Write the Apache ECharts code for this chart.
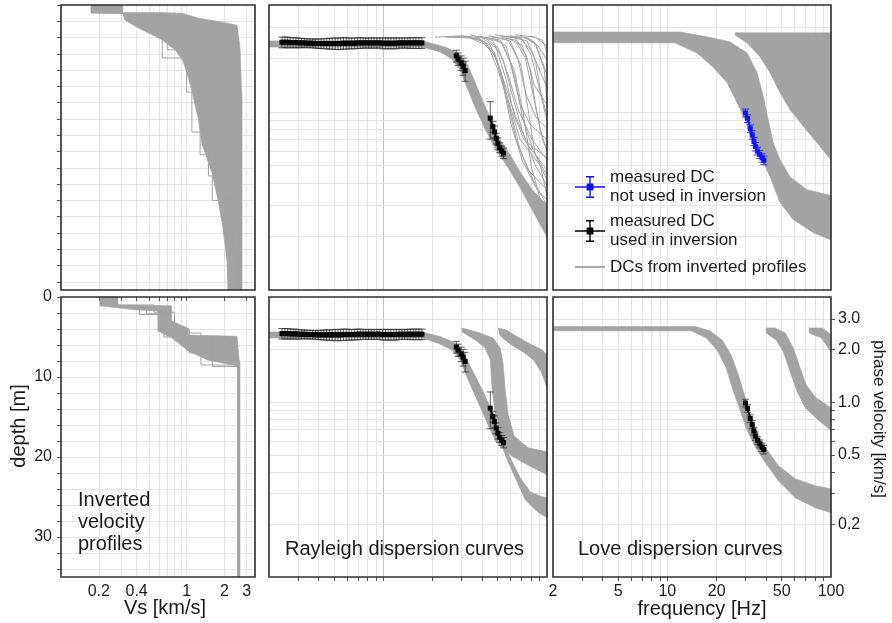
<!DOCTYPE html>
<html>
<head>
<meta charset="utf-8">
<title>Inverted velocity profiles and dispersion curves</title>
<script src="https://cdn.jsdelivr.net/npm/echarts@6.0.0/dist/echarts.min.js"></script>
<style>
  html, body { margin: 0; padding: 0; background: #fff; }
  #chart { width: 892px; height: 623px; }
</style>
</head>
<body>
<div id="chart"></div>
<script>
// ---- ticks and labels ----
const vsTicks = [0.2, 0.3, 0.4, 0.5, 0.6, 0.7, 0.8, 0.9, 1, 2, 3];
const vsLabels = [0.2, 0.4, 1, 2, 3];
const depthTicks = [0, 2, 4, 6, 8, 10, 12, 14, 16, 18, 20, 22, 24, 26, 28, 30, 32, 34];
const depthLabels = [0, 10, 20, 30];
const freqTicks = [3, 4, 5, 6, 7, 8, 9, 10, 20, 30, 40, 50, 60, 70, 80, 90];
const freqLabels = [2, 5, 10, 20, 50, 100];
const velTicks = [0.2, 0.3, 0.4, 0.5, 0.6, 0.7, 0.8, 0.9, 1, 2, 3];
const velLabels = [0.2, 0.5, 1, 2, 3];

// ---- measured dispersion curves (same data in both rows) ----
const rayFreq = [2.40, 2.50, 2.60, 2.70, 2.81, 2.92, 3.04, 3.16, 3.29, 3.42, 3.56, 3.70, 3.85, 4.00, 4.16, 4.33, 4.50,
  4.68, 4.87, 5.07, 5.27, 5.48, 5.70, 5.93, 6.17, 6.41, 6.67, 6.94, 7.22, 7.51, 7.81, 8.12, 8.44, 8.78, 9.13, 9.50,
  9.88, 10.3, 10.7, 11.1, 11.6, 12.0, 12.5, 13.0, 13.5, 14.1, 14.6, 15.2, 15.8, 16.5, 17.2, null,
  27.9, 28.6, 29.9, 30.7, 31.6, null,
  45.0, 46.7, 47.7, 48.9, 50.1, 51.3, 53.0, 54.2];
const rayVel = [2.47, 2.47, 2.47, 2.46, 2.46, 2.46, 2.45, 2.45, 2.45, 2.44, 2.44, 2.44, 2.43, 2.43, 2.43, 2.43, 2.43,
  2.43, 2.43, 2.43, 2.43, 2.43, 2.44, 2.44, 2.44, 2.44, 2.44, 2.45, 2.45, 2.45, 2.45, 2.45, 2.45, 2.45, 2.45, 2.45,
  2.44, 2.44, 2.44, 2.44, 2.44, 2.44, 2.45, 2.45, 2.45, 2.45, 2.45, 2.45, 2.45, 2.45, 2.45, null,
  2.07, 1.99, 1.89, 1.81, 1.71, null,
  0.925, 0.828, 0.775, 0.711, 0.665, 0.631, 0.604, 0.588];
const rayErr = [0.17, 0.17, 0.17, 0.16, 0.16, 0.16, 0.15, 0.15, 0.14, 0.14, 0.14, 0.14, 0.14, 0.15, 0.15, 0.16, 0.16,
  0.17, 0.17, 0.18, 0.18, 0.18, 0.18, 0.18, 0.17, 0.17, 0.17, 0.17, 0.17, 0.16, 0.16, 0.16, 0.16, 0.16, 0.16, 0.16,
  0.17, 0.17, 0.17, 0.17, 0.17, 0.17, 0.16, 0.16, 0.16, 0.16, 0.17, 0.17, 0.17, 0.17, 0.17, null,
  0.16, 0.16, 0.18, 0.2, 0.22, null,
  0.22, 0.06, 0.06, 0.05, 0.05, 0.04, 0.04, 0.04];
const loveFreq = [30.0, 30.9, 32.1, 33.0, 33.8, 34.5, 35.5, 36.7, 37.9, 38.9];
const loveVel = [0.99, 0.92, 0.807, 0.745, 0.684, 0.64, 0.604, 0.578, 0.553, 0.536];
const loveErr = [0.05, 0.045, 0.04, 0.04, 0.035, 0.035, 0.03, 0.03, 0.03, 0.03];

// ---- site A (top row): inverted profiles [Vs km/s, depth m] ----
const profA_band = [[0.173, 0], [0.31, 0], [0.31, 1.0], [0.92, 1.0], [1.23, 1.6], [1.91, 2.1], [2.52, 2.5], [2.66, 5.2],
  [2.76, 11.7], [2.76, 35], [2.13, 35], [2.09, 31.3], [1.94, 27.3], [1.78, 24], [1.59, 20.6], [1.32, 17], [1.23, 13.8],
  [1.11, 10.8], [1.01, 8.4], [0.93, 6.8], [0.81, 5.5], [0.64, 4.3], [0.41, 2.8], [0.32, 1.8], [0.31, 1.0], [0.173, 1.0]];
// stray profiles as layers [Vs, bottom depth]
const profA_steps = [
  [[0.26, 1.0], [0.64, 6.5], [1.0, 10.7], [1.1, 15.6], [1.28, 18.4], [1.49, 21], [1.6, 24], [2.3, 30], [2.7, 35]],
  [[0.2, 1.0], [0.81, 4.9], [1.17, 10], [1.35, 15.6], [1.53, 18], [1.68, 21], [1.85, 24], [2.5, 35]],
  [[0.3, 1.0], [0.7, 5.5], [1.05, 8.2], [1.2, 13], [1.4, 17], [1.7, 22], [2.2, 28], [2.6, 35]]
];

// ---- site A: Rayleigh curves [f Hz, v km/s] ----
const rayA_fund = [[2.0, 2.51], [17.3, 2.51], [23.9, 2.32], [28.6, 2.15], [32.1, 1.91], [35.4, 1.56], [40.7, 1.14], [46.2, 0.88],
  [51.8, 0.70], [59.6, 0.574], [68.6, 0.461], [81.2, 0.366], [100, 0.30], [100, 0.199], [81.2, 0.282], [68.6, 0.375],
  [57.9, 0.486], [48.9, 0.61], [42.5, 0.78], [36.9, 1.03], [32.5, 1.37], [29.4, 1.72], [26.3, 1.99], [22.2, 2.18],
  [17.3, 2.32], [2.0, 2.32]];
const rayA_lines = [
  [[20.7, 2.64], [30.3, 2.68], [39.0, 2.54], [48.2, 2.09], [55.5, 1.42], [63.9, 0.96], [76.7, 0.65], [100, 0.473]],
  [[30.3, 2.68], [41.9, 2.61], [50.3, 2.29], [57.9, 1.62], [66.7, 1.03], [81.2, 0.70], [100, 0.538]],
  [[33.9, 2.72], [46.2, 2.54], [54.0, 1.96], [61.3, 1.25], [70.5, 0.79], [84.8, 0.50], [100, 0.39]],
  [[37.9, 2.68], [51.8, 2.54], [59.6, 1.91], [68.6, 1.10], [79.0, 0.85], [100, 0.70]],
  [[43.7, 2.68], [57.9, 2.54], [66.7, 1.96], [74.6, 1.25], [86.0, 0.93], [100, 0.81]],
  [[48.2, 2.72], [63.9, 2.61], [74.6, 2.09], [83.6, 1.42], [100, 1.10]],
  [[51.8, 2.68], [68.6, 2.61], [81.2, 2.18], [91.1, 1.68], [100, 1.37]],
  [[55.5, 2.64], [70.5, 2.38], [79.0, 1.72], [86.0, 1.03], [93.8, 0.70], [100, 0.61]],
  [[59.6, 2.68], [76.7, 2.61], [88.6, 2.35], [100, 1.96]],
  [[63.9, 2.72], [84.8, 2.64], [100, 2.35]],
  [[40.2, 2.61], [48.9, 2.29], [56.3, 1.52], [63.0, 0.96], [72.4, 0.70], [100, 0.552]],
  [[46.2, 2.64], [56.3, 2.35], [63.9, 1.52], [71.4, 0.90], [82.4, 0.61], [100, 0.44]],
  [[68.6, 2.68], [83.6, 2.48], [93.8, 1.91], [100, 1.62]],
  [[36.4, 2.64], [45.0, 2.38], [51.8, 1.72], [57.9, 1.17], [68.6, 0.70], [91.1, 0.50], [100, 0.34]],
  [[23.9, 2.64], [33.9, 2.61], [43.7, 2.35], [50.3, 1.72], [59.6, 1.03], [68.6, 0.61], [84.8, 0.39], [100, 0.30]],
  [[27.5, 2.68], [39.0, 2.58], [47.7, 2.18], [54.0, 1.42], [60.4, 0.85], [70.5, 0.538], [87.2, 0.366], [100, 0.321]],
  [[51.8, 2.64], [63.9, 2.54], [73.6, 2.02], [81.2, 1.33], [91.1, 0.79], [100, 0.61]],
  [[57.9, 2.68], [70.5, 2.58], [80.1, 2.09], [88.6, 1.42], [96.3, 1.03], [100, 0.90]],
  [[61.3, 2.64], [75.6, 2.51], [84.8, 1.96], [92.2, 1.25], [100, 0.96]],
  [[45.0, 2.68], [59.6, 2.51], [69.5, 1.82], [76.7, 1.03], [84.8, 0.574], [100, 0.416]],
  [[79.0, 2.68], [93.8, 2.54], [100, 2.18]],
  [[41.9, 2.64], [53.2, 2.45], [63.0, 1.72], [71.4, 1.00], [80.1, 0.50], [91.1, 0.321], [100, 0.232]],
  [[73.6, 2.64], [86.0, 2.38], [96.3, 1.72], [100, 1.17]],
  [[33.0, 2.64], [41.9, 2.48], [49.6, 1.96], [57.1, 1.17], [64.8, 0.70], [76.7, 0.473], [100, 0.366]]
];

// ---- site A: Love curves ----
const loveA_fund = [[2.0, 2.82], [12.0, 2.82], [19.0, 2.61], [24.2, 2.48], [30.7, 2.15], [35.4, 1.66], [38.6, 1.22], [41.4, 0.90],
  [44.4, 0.67], [48.9, 0.538], [56.3, 0.432], [71.4, 0.366], [100, 0.34], [100, 0.191], [78.1, 0.21], [58.9, 0.248],
  [48.9, 0.309], [42.5, 0.432], [37.9, 0.538], [33.5, 0.67], [29.9, 0.90], [26.7, 1.13], [23.2, 1.46], [19.0, 1.79],
  [15.2, 2.15], [11.1, 2.45], [2.0, 2.45]];
const loveA_high = [[26.0, 2.79], [100, 2.79], [100, 0.538], [82.4, 0.67], [67.8, 0.83], [56.3, 1.03], [48.9, 1.28],
  [42.5, 1.66], [36.9, 2.04], [30.7, 2.45], [26.0, 2.7]];

// ---- site B (bottom row): inverted profiles ----
const profB_band = [[0.204, 0], [0.284, 0], [0.284, 1.0], [0.76, 1.1], [0.76, 3.0], [1.03, 3.9], [1.03, 4.75], [2.52, 4.9],
  [2.62, 8.0], [2.62, 8.6], [2.52, 8.6], [1.48, 7.9], [1.03, 6.75], [0.76, 5.1], [0.59, 4.25], [0.59, 1.75], [0.388, 1.6],
  [0.204, 1.1]];
const profB_half = [[2.53, 8.0], [2.66, 8.0], [2.66, 35], [2.53, 35]];
const profB_steps = [
  [[0.27, 1.1], [0.42, 2.2], [0.70, 4.0], [1.05, 7.0], [2.45, 8.3], [2.6, 35]],
  [[0.21, 1.0], [0.55, 1.9], [0.80, 4.5], [1.3, 8.5], [2.6, 35]],
  [[0.25, 1.2], [0.48, 2.1], [0.66, 5.0], [1.6, 8.7], [2.58, 35]]
];

// ---- site B: Rayleigh curves ----
const rayB_fund = [[2.0, 2.52], [17.3, 2.52], [22.2, 2.38], [26.7, 2.21], [30.7, 1.94], [35.4, 1.49], [40.7, 1.15], [46.2, 0.88],
  [51.8, 0.69], [57.9, 0.61], [54.7, 0.534], [48.9, 0.59], [43.7, 0.74], [37.9, 1.00], [33.0, 1.34], [29.4, 1.75],
  [26.3, 1.99], [22.2, 2.15], [17.3, 2.33], [2.0, 2.33]];
const rayB_branchA = [[55.5, 0.58], [63.9, 0.563], [79.0, 0.527], [100, 0.52], [100, 0.384], [79.0, 0.43], [61.3, 0.49], [53.2, 0.549]];
const rayB_branchB = [[55.5, 0.549], [61.3, 0.456], [68.6, 0.37], [79.0, 0.307], [91.1, 0.29], [100, 0.284], [100, 0.218],
  [87.2, 0.236], [73.6, 0.277], [63.9, 0.37], [57.9, 0.456], [54.0, 0.534]];
const rayB_mode1 = [[30.3, 2.66], [39.0, 2.49], [46.9, 2.33], [51.8, 2.04], [54.0, 1.64], [55.5, 1.18], [57.9, 0.85], [63.0, 0.64],
  [76.7, 0.549], [100, 0.52], [100, 0.41], [63.9, 0.494], [53.2, 0.59], [48.9, 0.79], [46.2, 1.18], [45.0, 1.75],
  [41.9, 2.04], [36.4, 2.27], [30.3, 2.52]];
const rayB_mode2 = [[50.3, 2.66], [56.3, 2.59], [64.8, 2.39], [79.0, 2.15], [93.8, 1.99], [100, 1.87], [100, 1.21],
  [92.2, 1.49], [82.4, 1.75], [71.4, 1.94], [60.4, 2.13], [51.8, 2.39]];

// ---- site B: Love curves ----
const loveB_fund = [[2.0, 2.71], [14.8, 2.71], [18.2, 2.56], [21.6, 2.27], [24.5, 1.87], [27.2, 1.43], [29.9, 1.06], [32.5, 0.81],
  [36.0, 0.65], [40.7, 0.534], [47.7, 0.433], [60.4, 0.365], [80.1, 0.333], [100, 0.32], [100, 0.233], [80.1, 0.249],
  [60.4, 0.284], [47.7, 0.355], [39.0, 0.462], [33.9, 0.57], [30.3, 0.71], [27.5, 0.93], [24.9, 1.21], [22.9, 1.57],
  [20.1, 1.99], [17.3, 2.33], [14.0, 2.56], [2.0, 2.56]];
const loveB_mode1 = [[40.2, 2.66], [45.6, 2.66], [52.5, 2.49], [58.9, 2.04], [64.8, 1.57], [70.5, 1.26], [80.1, 1.07], [100, 0.93],
  [100, 0.69], [83.6, 0.79], [69.5, 0.93], [62.1, 1.15], [56.3, 1.49], [51.2, 1.94], [46.2, 2.27], [40.2, 2.49]];
const loveB_mode2 = [[73.6, 2.66], [88.6, 2.66], [100, 2.43], [100, 1.94], [87.2, 2.33], [73.6, 2.49]];

// ---- names ----
const NAME_BLUE = 'measured DC\nnot used in inversion';
const NAME_BLACK = 'measured DC\nused in inversion';
const NAME_DC = 'DCs from inverted profiles';

// ---- style ----
const FONT = '"Liberation Sans", Arial, Helvetica, sans-serif';
const GRAY = '#a3a3a3';
const GRID_LINE = '#e4e4e4';
const GRID_DARK = '#c2c2c2';
const INK = '#1a1a1a';
const BLUE = '#1010ff';
const CAP = 3.5;
const ERR_ICON = 'path://M0,10.3L30,10.3L30,11.7L0,11.7Z M14.3,0L15.7,0L15.7,22L14.3,22Z M11,0L19,0L19,1.4L11,1.4Z ' +
  'M11,20.6L19,20.6L19,22L11,22Z M11.6,7.6L18.4,7.6L18.4,14.4L11.6,14.4Z';
const LINE_ICON = 'path://M0,0L0.05,0L0.05,0.05Z M30,22L29.95,22L29.95,21.95Z M0,10.2L30,10.2L30,11.8L0,11.8Z';

const boxes = [
  [61, 5, 194, 285], [269, 5, 278, 285], [553, 5, 278, 285],
  [61, 297, 194, 280], [269, 297, 278, 280], [553, 297, 278, 280]
];

const lg = Math.log10;
const shortNum = v => String(+v.toPrecision(2));

function tickStyle(show) {
  return {show, length: 4, inside: false, lineStyle: {color: '#555', width: 1}};
}

function xAxes(gi, kind, ticksOn, labelsOn) {
  const isVs = kind === 'vs';
  const min = isVs ? 0.1 : 2, max = isVs ? 3.5 : 100;
  const ticks = isVs ? vsTicks : freqTicks;
  const labels = isVs ? vsLabels : freqLabels;
  return [
    {gridIndex: gi, type: 'log', logBase: 10, min, max, show: false},
    {gridIndex: gi, type: 'value', min: lg(min), max: lg(max), position: 'bottom',
      axisLine: {show: false}, splitLine: {show: false},
      axisTick: Object.assign(tickStyle(ticksOn), {customValues: ticks.map(lg)}),
      axisLabel: {show: labelsOn, customValues: labels.map(lg), margin: 7, fontSize: 16, color: INK,
        fontFamily: FONT, formatter: v => shortNum(Math.pow(10, v))}}
  ];
}

function yAxes(gi, kind, ticksOn, labelsOn, side) {
  if (kind === 'depth') {
    const base = {gridIndex: gi, type: 'value', min: 0, max: 35, inverse: true};
    return [
      Object.assign({show: false}, base),
      Object.assign({}, base, {position: 'left', axisLine: {show: false}, splitLine: {show: false},
        axisTick: Object.assign(tickStyle(ticksOn), {customValues: depthTicks}),
        axisLabel: {show: labelsOn, customValues: depthLabels, margin: 9, fontSize: 16, color: INK, fontFamily: FONT}})
    ];
  }
  return [
    {gridIndex: gi, type: 'log', logBase: 10, min: 0.1, max: 4, show: false},
    {gridIndex: gi, type: 'value', min: -1, max: lg(4), position: side || 'left',
      axisLine: {show: false}, splitLine: {show: false},
      axisTick: Object.assign(tickStyle(ticksOn), {customValues: velTicks.map(lg)}),
      axisLabel: {show: labelsOn, customValues: velLabels.map(lg), margin: 7, fontSize: 16, color: INK,
        fontFamily: FONT, formatter: v => (+Math.pow(10, v).toPrecision(2)).toFixed(1)}}
  ];
}

// light grid lines at the tick values, drawn on the data axes, under everything else
function gridLines(gi, xs, ys, darkX) {
  const data = xs.map(v => (v === darkX ? {xAxis: v, lineStyle: {color: GRID_DARK}} : {xAxis: v}))
    .concat(ys.map(v => ({yAxis: v})));
  return {
    type: 'line', xAxisIndex: 2 * gi, yAxisIndex: 2 * gi, data: [], silent: true, z: 0,
    markLine: {silent: true, z: 0, symbol: ['none', 'none'], label: {show: false}, animation: false,
      emphasis: {disabled: true}, lineStyle: {color: GRID_LINE, width: 1, type: 'solid'}, data}
  };
}

// polygons of dense curve bundles
function bandSeries(gi, rings) {
  return {
    type: 'custom', xAxisIndex: 2 * gi, yAxisIndex: 2 * gi, silent: true, z: 2,
    data: rings.map((r, k) => [r[0][0], r[0][1], k]),
    renderItem(params, api) {
      const pts = rings[params.dataIndex].map(p => api.coord(p));
      return {type: 'polygon', shape: {points: pts}, style: {fill: GRAY, stroke: GRAY, lineWidth: 0.6}};
    }
  };
}

function lineSeries(gi, pts, name) {
  return {
    type: 'line', name, xAxisIndex: 2 * gi, yAxisIndex: 2 * gi, silent: true, z: 3,
    data: pts, symbol: 'none', lineStyle: {color: GRAY, width: 1}, itemStyle: {color: GRAY}
  };
}

function stepPoints(layers) {
  const pts = [];
  let top = 0;
  layers.forEach(([vs, bottom]) => { pts.push([vs, top], [vs, bottom]); top = bottom; });
  return pts;
}

function errorSeries(gi, freq, vel, err, color) {
  const data = [];
  freq.forEach((f, k) => { if (f != null) data.push([f, vel[k], vel[k] - err[k], vel[k] + err[k]]); });
  return {
    type: 'custom', xAxisIndex: 2 * gi, yAxisIndex: 2 * gi, silent: true, z: 4,
    encode: {x: 0, y: [1, 2, 3]}, data,
    renderItem(params, api) {
      const lo = api.coord([api.value(0), api.value(2)]);
      const hi = api.coord([api.value(0), api.value(3)]);
      const st = {stroke: color, lineWidth: 0.8};
      return {type: 'group', children: [
        {type: 'line', shape: {x1: lo[0], y1: lo[1], x2: hi[0], y2: hi[1]}, style: st},
        {type: 'line', shape: {x1: lo[0] - CAP, y1: lo[1], x2: lo[0] + CAP, y2: lo[1]}, style: st},
        {type: 'line', shape: {x1: hi[0] - CAP, y1: hi[1], x2: hi[0] + CAP, y2: hi[1]}, style: st}
      ]};
    }
  };
}

function measuredSeries(gi, freq, vel, color, name) {
  return {
    type: 'line', name, xAxisIndex: 2 * gi, yAxisIndex: 2 * gi, silent: true, z: 5,
    data: freq.map((f, k) => (f == null ? ['-', '-'] : [f, vel[k]])),
    connectNulls: false, symbol: 'rect', symbolSize: 5, showSymbol: true,
    itemStyle: {color}, lineStyle: {color, width: 1.5}
  };
}

const xAxis = [].concat(
  xAxes(0, 'vs', false, false), xAxes(1, 'f', false, false), xAxes(2, 'f', false, false),
  xAxes(3, 'vs', true, true), xAxes(4, 'f', true, false), xAxes(5, 'f', true, true)
);
const yAxis = [].concat(
  yAxes(0, 'depth', true, false), yAxes(1, 'v', false, false), yAxes(2, 'v', false, false),
  yAxes(3, 'depth', true, true), yAxes(4, 'v', false, false), yAxes(5, 'v', true, true, 'right')
);

const series = [
  // legend owners first
  measuredSeries(1, rayFreq, rayVel, '#000', NAME_BLACK),
  measuredSeries(2, loveFreq, loveVel, BLUE, NAME_BLUE),
  ...rayA_lines.map(p => lineSeries(1, p, NAME_DC)),
  measuredSeries(4, rayFreq, rayVel, '#000', NAME_BLACK),
  measuredSeries(5, loveFreq, loveVel, '#000', NAME_BLACK),

  gridLines(0, vsTicks, depthTicks.slice(1)),
  gridLines(1, freqTicks, velTicks, 10),
  gridLines(2, freqTicks, velTicks),
  gridLines(3, vsTicks, depthTicks.slice(1)),
  gridLines(4, freqTicks, velTicks, 10),
  gridLines(5, freqTicks, velTicks),

  bandSeries(0, [profA_band]),
  ...profA_steps.map(l => lineSeries(0, stepPoints(l), NAME_DC)),
  bandSeries(1, [rayA_fund]),
  bandSeries(2, [loveA_fund, loveA_high]),
  bandSeries(3, [profB_band, profB_half]),
  ...profB_steps.map(l => lineSeries(3, stepPoints(l), NAME_DC)),
  bandSeries(4, [rayB_fund, rayB_branchA, rayB_branchB, rayB_mode1, rayB_mode2]),
  bandSeries(5, [loveB_fund, loveB_mode1, loveB_mode2]),

  errorSeries(1, rayFreq, rayVel, rayErr, '#333'),
  errorSeries(2, loveFreq, loveVel, loveErr, BLUE),
  errorSeries(4, rayFreq, rayVel, rayErr, '#333'),
  errorSeries(5, loveFreq, loveVel, loveErr, '#333')
];

function label(text, x, y, opts) {
  return {type: 'text', x, y, silent: true, z: 20,
    style: Object.assign({text, fill: INK, font: '20px ' + FONT, align: 'center', verticalAlign: 'middle'}, opts || {})};
}

const option = {
  animation: false,
  backgroundColor: '#fff',
  textStyle: {fontFamily: FONT},
  grid: boxes.map(b => ({left: b[0], top: b[1], width: b[2], height: b[3], show: true, z: 10,
    backgroundColor: 'transparent', borderColor: '#2e2e2e', borderWidth: 1.6,
    containLabel: false, outerBoundsMode: 'none'})),
  xAxis, yAxis, series,
  legend: {
    orient: 'vertical', left: 570, top: 163, itemWidth: 30, itemHeight: 22, itemGap: 6, z: 12,
    selectedMode: false,
    textStyle: {fontSize: 17, lineHeight: 19, color: INK, fontFamily: FONT},
    data: [
      {name: NAME_BLUE, icon: ERR_ICON},
      {name: NAME_BLACK, icon: ERR_ICON},
      {name: NAME_DC, icon: LINE_ICON, itemStyle: {color: '#8c8c8c'}}
    ]
  },
  graphic: [
    label('Vs [km/s]', 165, 608),
    label('frequency [Hz]', 702, 609),
    Object.assign(label('depth [m]', 19, 426), {rotation: Math.PI / 2}),
    Object.assign(label('phase velocity [km/s]', 879, 419, {font: '17px ' + FONT}), {rotation: -Math.PI / 2}),
    label('Inverted\nvelocity\nprofiles', 78, 522, {align: 'left', lineHeight: 22}),
    label('Rayleigh dispersion curves', 285, 549, {align: 'left'}),
    label('Love dispersion curves', 578, 549, {align: 'left'})
  ]
};

const chart = echarts.init(document.getElementById('chart'), null, {renderer: 'canvas'});
chart.setOption(option);
</script>
</body>
</html>
